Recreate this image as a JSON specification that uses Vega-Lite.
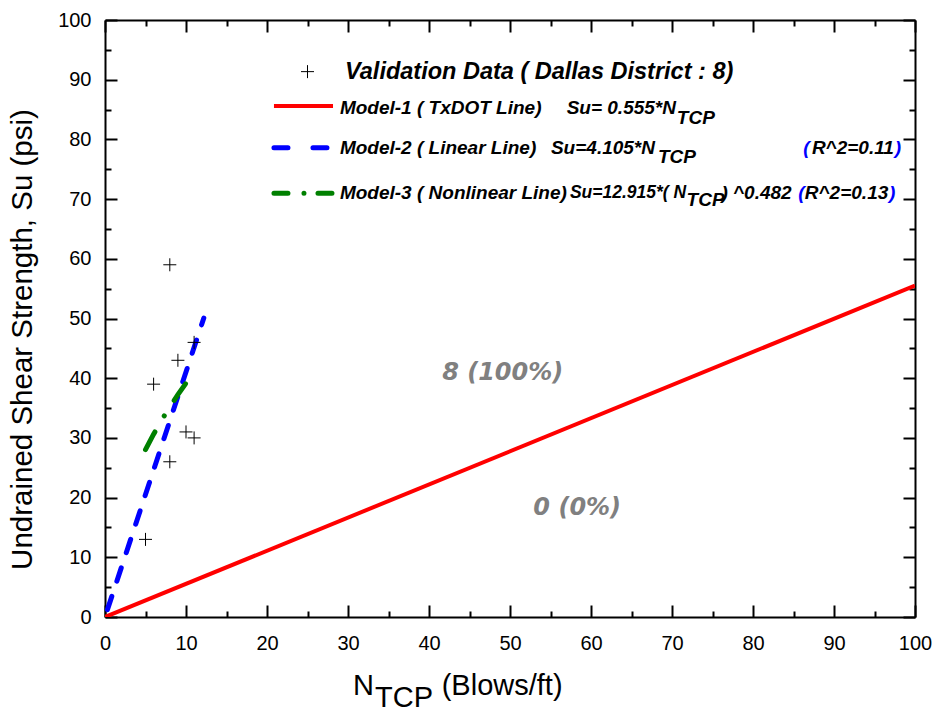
{
  "$schema": "https://vega.github.io/schema/vega-lite/v6.json",
  "width": 810,
  "height": 597,
  "autosize": {"type": "none"},
  "padding": {"left": 105, "top": 20, "right": 25, "bottom": 96},
  "background": "white",
  "config": {
    "font": "Liberation Sans",
    "view": {"stroke": null},
    "axis": {"grid": false, "domainColor": "black", "tickColor": "black", "labelColor": "black", "titleColor": "black"}
  },
  "datasets": {
    "validation": [
      {"N": 8, "Su": 59},
      {"N": 11, "Su": 46},
      {"N": 9, "Su": 43},
      {"N": 6, "Su": 39},
      {"N": 10, "Su": 31},
      {"N": 11, "Su": 30},
      {"N": 8, "Su": 26},
      {"N": 5, "Su": 13}
    ],
    "model1": [{"N": 0, "Su": 0}, {"N": 100, "Su": 55.5}],
    "model2": [{"N": 0.3, "Su": 1.23}, {"N": 12.2, "Su": 50.08}],
    "model3": [
      {"N": 5, "Su": 28.05},
      {"N": 6, "Su": 30.63},
      {"N": 7, "Su": 32.99},
      {"N": 8, "Su": 35.19},
      {"N": 9, "Su": 37.24},
      {"N": 10, "Su": 39.18},
      {"N": 10.4, "Su": 39.93}
    ],
    "key1": [{"N": 20.86, "Su": 85.6}, {"N": 28.15, "Su": 85.6}],
    "key2": [{"N": 20.86, "Su": 78.6}, {"N": 28.15, "Su": 78.6}],
    "key3": [{"N": 20.86, "Su": 71.0}, {"N": 28.15, "Su": 71.0}],
    "keyPoint": [{"N": 25.0, "Su": 91.35}],
    "heading": [{"N": 29.63, "Su": 91.35, "label": "Validation Data ( Dallas District : 8)"}],
    "keyLeft": [
      {"N": 29.0, "Su": 85.26, "label": "Model-1 ( TxDOT Line)"},
      {"N": 29.0, "Su": 78.5, "label": "Model-2 ( Linear Line)"},
      {"N": 29.0, "Su": 70.97, "label": "Model-3 ( Nonlinear Line)"},
      {"N": 76.1, "Su": 70.97, "label": ") ^0.482"}
    ],
    "keyRight": [
      {"N": 70.49, "Su": 85.26, "label": "Su= 0.555*N"},
      {"N": 67.9, "Su": 78.5, "label": "Su=4.105*N"},
      {"N": 97.4, "Su": 78.5, "label": "R^2=0.11"},
      {"N": 96.7, "Su": 70.97, "label": "R^2=0.13"}
    ],
    "keyNarrow": [
      {"N": 57.4, "Su": 70.97, "label": "Su=12.915*( N"}
    ],
    "keySub": [
      {"N": 70.6, "Su": 83.53, "label": "TCP"},
      {"N": 68.27, "Su": 77.1, "label": "TCP"},
      {"N": 71.8, "Su": 69.85, "label": "TCP"}
    ],
    "keyParen": [
      {"N": 86.2, "Su": 78.5, "label": "("},
      {"N": 97.5, "Su": 78.5, "label": ")"},
      {"N": 85.6, "Su": 70.97, "label": "("},
      {"N": 96.8, "Su": 70.97, "label": ")"}
    ],
    "counts": [
      {"N": 49.1, "Su": 40.9, "label": "8 (100%)"},
      {"N": 58.3, "Su": 18.3, "label": "0 (0%)"}
    ],
    "xTitle": [
      {"N": 30.62, "Su": -13.1, "label": "N"},
      {"N": 41.57, "Su": -13.1, "label": "(Blows/ft)"}
    ],
    "xTitleSub": [{"N": 33.33, "Su": -15.05, "label": "TCP"}]
  },
  "resolve": {"axis": {"x": "independent", "y": "independent"}},
  "layer": [
    {
      "data": {"name": "model1"},
      "mark": {"type": "line", "color": "#ff0000", "strokeWidth": 4, "clip": true},
      "encoding": {
        "x": {"field": "N", "type": "quantitative", "scale": {"domain": [0, 100], "nice": false, "zero": false},
          "axis": {"orient": "bottom", "values": [0, 10, 20, 30, 40, 50, 60, 70, 80, 90, 100], "tickSize": -12, "tickWidth": 2, "domainWidth": 2, "labelFontSize": 20, "labelPadding": 28, "labelFlush": false, "labelOverlap": false, "title": null}},
        "y": {"field": "Su", "type": "quantitative", "scale": {"domain": [0, 100], "nice": false, "zero": false},
          "axis": {"orient": "left", "values": [0, 10, 20, 30, 40, 50, 60, 70, 80, 90, 100], "tickSize": -12, "tickWidth": 2, "domainWidth": 2, "labelFontSize": 20, "labelPadding": 26, "labelFlush": false, "labelOverlap": false,
            "title": "Undrained Shear Strength, Su (psi)", "titleFontSize": 29.5, "titleFontWeight": "normal", "titleX": -83, "titleY": 319, "titleAngle": -90, "titleAlign": "center", "titleBaseline": "middle"}}
      }
    },
    {
      "data": {"name": "model2"},
      "mark": {"type": "line", "color": "#0000ff", "strokeWidth": 5, "strokeCap": "round", "strokeDash": [14, 16]},
      "encoding": {
        "x": {"field": "N", "type": "quantitative",
          "axis": {"orient": "bottom", "values": [5, 15, 25, 35, 45, 55, 65, 75, 85, 95], "tickSize": -6, "tickWidth": 2, "labels": false, "domain": false, "title": null}},
        "y": {"field": "Su", "type": "quantitative",
          "axis": {"orient": "left", "values": [5, 15, 25, 35, 45, 55, 65, 75, 85, 95], "tickSize": -6, "tickWidth": 2, "labels": false, "domain": false, "title": null}}
      }
    },
    {
      "data": {"name": "model3"},
      "mark": {"type": "line", "color": "#008000", "strokeWidth": 5, "strokeCap": "round", "strokeDash": [20, 18.5, 0.01, 18.5]},
      "encoding": {
        "x": {"field": "N", "type": "quantitative",
          "axis": {"orient": "top", "values": [0, 10, 20, 30, 40, 50, 60, 70, 80, 90, 100], "tickSize": -12, "tickWidth": 2, "domainWidth": 2, "labels": false, "title": null}},
        "y": {"field": "Su", "type": "quantitative",
          "axis": {"orient": "right", "values": [0, 10, 20, 30, 40, 50, 60, 70, 80, 90, 100], "tickSize": -12, "tickWidth": 2, "domainWidth": 2, "labels": false, "title": null}}
      }
    },
    {
      "data": {"name": "validation"},
      "mark": {"type": "point", "shape": "M-1,0L1,0M0,-1L0,1", "size": 169, "stroke": "black", "strokeWidth": 1, "filled": false, "opacity": 1},
      "encoding": {
        "x": {"field": "N", "type": "quantitative",
          "axis": {"orient": "top", "values": [5, 15, 25, 35, 45, 55, 65, 75, 85, 95], "tickSize": -6, "tickWidth": 2, "labels": false, "domain": false, "title": null}},
        "y": {"field": "Su", "type": "quantitative",
          "axis": {"orient": "right", "values": [5, 15, 25, 35, 45, 55, 65, 75, 85, 95], "tickSize": -6, "tickWidth": 2, "labels": false, "domain": false, "title": null}}
      }
    },
    {
      "data": {"name": "key1"},
      "mark": {"type": "line", "color": "#ff0000", "strokeWidth": 4},
      "encoding": {"x": {"field": "N", "type": "quantitative", "axis": null}, "y": {"field": "Su", "type": "quantitative", "axis": null}}
    },
    {
      "data": {"name": "key2"},
      "mark": {"type": "line", "color": "#0000ff", "strokeWidth": 5, "strokeCap": "round", "strokeDash": [14, 25]},
      "encoding": {"x": {"field": "N", "type": "quantitative", "axis": null}, "y": {"field": "Su", "type": "quantitative", "axis": null}}
    },
    {
      "data": {"name": "key3"},
      "mark": {"type": "line", "color": "#008000", "strokeWidth": 5, "strokeCap": "round", "strokeDash": [14, 16, 0.01, 14]},
      "encoding": {"x": {"field": "N", "type": "quantitative", "axis": null}, "y": {"field": "Su", "type": "quantitative", "axis": null}}
    },
    {
      "data": {"name": "keyPoint"},
      "mark": {"type": "point", "shape": "M-1,0L1,0M0,-1L0,1", "size": 169, "stroke": "black", "strokeWidth": 1, "filled": false, "opacity": 1},
      "encoding": {"x": {"field": "N", "type": "quantitative", "axis": null}, "y": {"field": "Su", "type": "quantitative", "axis": null}}
    },
    {
      "data": {"name": "heading"},
      "mark": {"type": "text", "align": "left", "baseline": "middle", "font": "Liberation Sans", "fontSize": 23.5, "fontWeight": "bold", "fontStyle": "italic", "color": "black"},
      "encoding": {"x": {"field": "N", "type": "quantitative", "axis": null}, "y": {"field": "Su", "type": "quantitative", "axis": null}, "text": {"field": "label"}}
    },
    {
      "data": {"name": "keyLeft"},
      "mark": {"type": "text", "align": "left", "baseline": "middle", "font": "Liberation Sans", "fontSize": 19, "fontWeight": "bold", "fontStyle": "italic", "color": "black"},
      "encoding": {"x": {"field": "N", "type": "quantitative", "axis": null}, "y": {"field": "Su", "type": "quantitative", "axis": null}, "text": {"field": "label"}}
    },
    {
      "data": {"name": "keyRight"},
      "mark": {"type": "text", "align": "right", "baseline": "middle", "font": "Liberation Sans", "fontSize": 19, "fontWeight": "bold", "fontStyle": "italic", "color": "black"},
      "encoding": {"x": {"field": "N", "type": "quantitative", "axis": null}, "y": {"field": "Su", "type": "quantitative", "axis": null}, "text": {"field": "label"}}
    },
    {
      "data": {"name": "keyNarrow"},
      "mark": {"type": "text", "align": "left", "baseline": "middle", "font": "Liberation Sans", "fontSize": 17.5, "fontWeight": "bold", "fontStyle": "italic", "color": "black"},
      "encoding": {"x": {"field": "N", "type": "quantitative", "axis": null}, "y": {"field": "Su", "type": "quantitative", "axis": null}, "text": {"field": "label"}}
    },
    {
      "data": {"name": "keySub"},
      "mark": {"type": "text", "align": "left", "baseline": "middle", "font": "Liberation Sans", "fontSize": 19, "fontWeight": "bold", "fontStyle": "italic", "color": "black"},
      "encoding": {"x": {"field": "N", "type": "quantitative", "axis": null}, "y": {"field": "Su", "type": "quantitative", "axis": null}, "text": {"field": "label"}}
    },
    {
      "data": {"name": "keyParen"},
      "mark": {"type": "text", "align": "left", "baseline": "middle", "font": "Liberation Sans", "fontSize": 19, "fontWeight": "bold", "fontStyle": "italic", "color": "#0000ff"},
      "encoding": {"x": {"field": "N", "type": "quantitative", "axis": null}, "y": {"field": "Su", "type": "quantitative", "axis": null}, "text": {"field": "label"}}
    },
    {
      "data": {"name": "counts"},
      "mark": {"type": "text", "align": "center", "baseline": "middle", "font": "DejaVu Sans", "fontSize": 24, "fontWeight": "bold", "fontStyle": "italic", "color": "#808080"},
      "encoding": {"x": {"field": "N", "type": "quantitative", "axis": null}, "y": {"field": "Su", "type": "quantitative", "axis": null}, "text": {"field": "label"}}
    },
    {
      "data": {"name": "xTitle"},
      "mark": {"type": "text", "align": "left", "baseline": "alphabetic", "font": "Liberation Sans", "fontSize": 29, "color": "black"},
      "encoding": {"x": {"field": "N", "type": "quantitative", "axis": null}, "y": {"field": "Su", "type": "quantitative", "axis": null}, "text": {"field": "label"}}
    },
    {
      "data": {"name": "xTitleSub"},
      "mark": {"type": "text", "align": "left", "baseline": "alphabetic", "font": "Liberation Sans", "fontSize": 29, "color": "black"},
      "encoding": {"x": {"field": "N", "type": "quantitative", "axis": null}, "y": {"field": "Su", "type": "quantitative", "axis": null}, "text": {"field": "label"}}
    }
  ]
}
